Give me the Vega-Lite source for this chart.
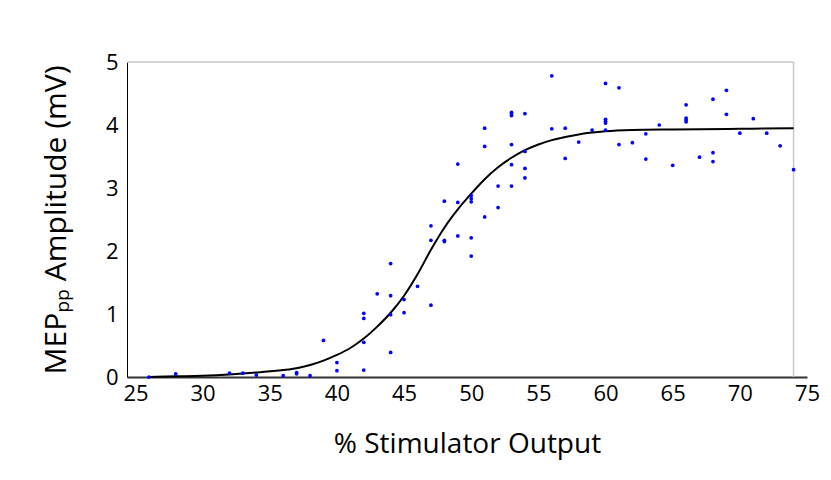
{
  "$schema": "https://vega.github.io/schema/vega-lite/v6.json",
  "width": 680,
  "height": 315,
  "autosize": "none",
  "padding": {"left": 127, "top": 62, "right": 24, "bottom": 103},
  "background": "white",
  "config": {"view": {"stroke": null}, "font": "Open Sans"},
  "datasets": {
    "frame": [{"stim": 24.37, "stim_end": 74, "mep": 5}, {"stim": 74, "stim_end": 74, "mep": 0}],
    "points": [
      {"stim": 26, "mep": 0.00}, {"stim": 28, "mep": 0.05}, {"stim": 32, "mep": 0.06}, {"stim": 33, "mep": 0.06},
      {"stim": 34, "mep": 0.03}, {"stim": 36, "mep": 0.02}, {"stim": 37, "mep": 0.07}, {"stim": 37, "mep": 0.05},
      {"stim": 38, "mep": 0.02}, {"stim": 39, "mep": 0.58}, {"stim": 40, "mep": 0.23}, {"stim": 40, "mep": 0.10},
      {"stim": 42, "mep": 1.01}, {"stim": 42, "mep": 0.93}, {"stim": 42, "mep": 0.55}, {"stim": 42, "mep": 0.11},
      {"stim": 43, "mep": 1.32}, {"stim": 44, "mep": 1.80}, {"stim": 44, "mep": 1.29}, {"stim": 44, "mep": 0.99},
      {"stim": 44, "mep": 0.39}, {"stim": 45, "mep": 1.23}, {"stim": 45, "mep": 1.02}, {"stim": 46, "mep": 1.44},
      {"stim": 47, "mep": 2.40}, {"stim": 47, "mep": 2.17}, {"stim": 47, "mep": 1.14}, {"stim": 48, "mep": 2.79},
      {"stim": 48, "mep": 2.17}, {"stim": 48, "mep": 2.15}, {"stim": 49, "mep": 3.38}, {"stim": 49, "mep": 2.77},
      {"stim": 49, "mep": 2.24}, {"stim": 50, "mep": 2.88}, {"stim": 50, "mep": 2.83}, {"stim": 50, "mep": 2.78},
      {"stim": 50, "mep": 2.21}, {"stim": 50, "mep": 1.92}, {"stim": 51, "mep": 3.95}, {"stim": 51, "mep": 3.66},
      {"stim": 51, "mep": 2.54}, {"stim": 52, "mep": 3.03}, {"stim": 52, "mep": 2.69}, {"stim": 53, "mep": 4.20},
      {"stim": 53, "mep": 4.18}, {"stim": 53, "mep": 4.15}, {"stim": 53, "mep": 3.69}, {"stim": 53, "mep": 3.37},
      {"stim": 53, "mep": 3.03}, {"stim": 54, "mep": 4.18}, {"stim": 54, "mep": 3.58}, {"stim": 54, "mep": 3.31},
      {"stim": 54, "mep": 3.16}, {"stim": 56, "mep": 4.78}, {"stim": 56, "mep": 3.94}, {"stim": 57, "mep": 3.95},
      {"stim": 57, "mep": 3.47}, {"stim": 58, "mep": 3.73}, {"stim": 59, "mep": 3.92}, {"stim": 60, "mep": 4.66},
      {"stim": 60, "mep": 4.09}, {"stim": 60, "mep": 4.06}, {"stim": 60, "mep": 4.03}, {"stim": 60, "mep": 3.92},
      {"stim": 61, "mep": 4.59}, {"stim": 61, "mep": 3.69}, {"stim": 62, "mep": 3.72}, {"stim": 63, "mep": 3.86},
      {"stim": 63, "mep": 3.46}, {"stim": 64, "mep": 4.00}, {"stim": 65, "mep": 3.36}, {"stim": 66, "mep": 4.32},
      {"stim": 66, "mep": 4.11}, {"stim": 66, "mep": 4.08}, {"stim": 66, "mep": 4.05}, {"stim": 67, "mep": 3.49},
      {"stim": 68, "mep": 4.41}, {"stim": 68, "mep": 3.56}, {"stim": 68, "mep": 3.42}, {"stim": 69, "mep": 4.55},
      {"stim": 69, "mep": 4.17}, {"stim": 70, "mep": 3.87}, {"stim": 71, "mep": 4.10}, {"stim": 72, "mep": 3.87},
      {"stim": 73, "mep": 3.67}, {"stim": 74, "mep": 3.29}
    ],
    "fit": [
      {"stim": 26, "mep": 0.00}, {"stim": 28, "mep": 0.01}, {"stim": 30, "mep": 0.02}, {"stim": 32, "mep": 0.04},
      {"stim": 34, "mep": 0.07}, {"stim": 36, "mep": 0.11}, {"stim": 37, "mep": 0.14}, {"stim": 38, "mep": 0.19},
      {"stim": 39, "mep": 0.26}, {"stim": 40, "mep": 0.35}, {"stim": 41, "mep": 0.46}, {"stim": 42, "mep": 0.61},
      {"stim": 43, "mep": 0.80}, {"stim": 44, "mep": 1.02}, {"stim": 45, "mep": 1.29}, {"stim": 46, "mep": 1.63},
      {"stim": 47, "mep": 2.02}, {"stim": 48, "mep": 2.37}, {"stim": 49, "mep": 2.66}, {"stim": 50, "mep": 2.91},
      {"stim": 51, "mep": 3.14}, {"stim": 52, "mep": 3.33}, {"stim": 53, "mep": 3.48}, {"stim": 54, "mep": 3.60},
      {"stim": 55, "mep": 3.69}, {"stim": 56, "mep": 3.76}, {"stim": 57, "mep": 3.81}, {"stim": 58, "mep": 3.85},
      {"stim": 59, "mep": 3.88}, {"stim": 60, "mep": 3.90}, {"stim": 62, "mep": 3.92}, {"stim": 65, "mep": 3.93},
      {"stim": 70, "mep": 3.94}, {"stim": 74, "mep": 3.95}
    ]
  },
  "layer": [
    {
      "data": {"name": "frame"},
      "mark": {"type": "rule", "color": "#c8c8c8", "strokeWidth": 1.5},
      "encoding": {
        "x": {"field": "stim", "type": "quantitative"},
        "x2": {"field": "stim_end"},
        "y": {"field": "mep", "type": "quantitative"},
        "y2": {"datum": 5}
      }
    },
    {
      "data": {"name": "fit"},
      "mark": {"type": "line", "color": "#000000", "strokeWidth": 2, "interpolate": "monotone"},
      "encoding": {
        "x": {"field": "stim", "type": "quantitative"},
        "y": {"field": "mep", "type": "quantitative"}
      }
    },
    {
      "data": {"name": "points"},
      "mark": {"type": "point", "filled": true, "color": "#0000ff", "size": 14, "opacity": 1},
      "encoding": {
        "x": {
          "field": "stim", "type": "quantitative",
          "scale": {"domain": [24.37, 75], "nice": false, "zero": false},
          "axis": {
            "values": [25, 30, 35, 40, 45, 50, 55, 60, 65, 70, 75], "format": "d",
            "ticks": false, "grid": false,
            "domainColor": "#333333", "domainWidth": 2,
            "labelFont": "Open Sans", "labelFontSize": 22, "labelColor": "#000000",
            "labelPadding": 6, "labelFlush": false, "labelOverlap": false,
            "title": "% Stimulator Output", "titleFont": "Open Sans", "titleFontSize": 28,
            "titleFontWeight": "normal", "titleColor": "#000000", "titlePadding": 26
          }
        },
        "y": {
          "field": "mep", "type": "quantitative",
          "scale": {"domain": [0, 5], "nice": false},
          "axis": {
            "values": [0, 1, 2, 3, 4, 5], "format": "d",
            "ticks": false, "grid": false,
            "domainColor": "#000000", "domainWidth": 1,
            "labelFont": "Open Sans", "labelFontSize": 22, "labelColor": "#000000",
            "labelPadding": 9, "labelFlush": false, "labelOverlap": false,
            "title": "MEPₚₚ Amplitude (mV)", "titleFont": "Open Sans", "titleFontSize": 30,
            "titleFontWeight": "normal", "titleColor": "#000000", "titlePadding": 34
          }
        }
      }
    }
  ]
}
